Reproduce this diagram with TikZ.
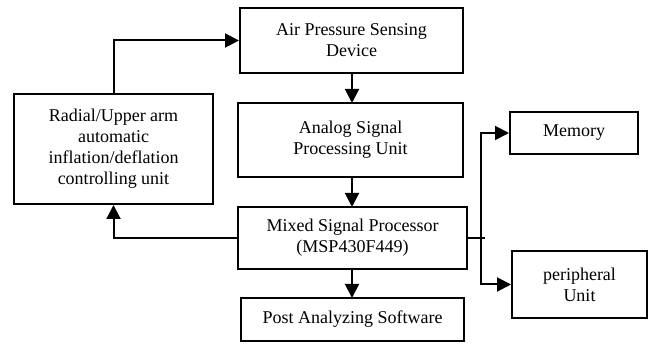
\documentclass[tikz,border=0pt]{standalone}
\usepackage{fontspec}
\setmainfont{Liberation Serif}
\usetikzlibrary{arrows.meta}
\begin{document}
\begin{tikzpicture}[x=1pt,y=1pt,
  box/.style={draw, line width=2pt, align=center, inner sep=0pt,
    font=\fontsize{18}{21}\selectfont},
  conn/.style={line width=2pt, -{Triangle[length=14pt,width=14pt]}},
  plain/.style={line width=2pt}]
\useasboundingbox (0,0) rectangle (649,-344);
\node[box, minimum width=223pt, minimum height=65pt] (air) at (351.5,-40.5) {Air Pressure Sensing\\Device};
\node[box, minimum width=225pt, minimum height=74pt] (analog) at (350.5,-140) {Analog Signal\\Processing Unit};
\node[box, minimum width=229pt, minimum height=62pt] (mixed) at (352.5,-238) {Mixed Signal Processor\\(MSP430F449)};
\node[box, minimum width=223pt, minimum height=43pt] (post) at (352.5,-319.5) {Post Analyzing Software};
\node[box, minimum width=199pt, minimum height=110pt] (radial) at (113.5,-149) {Radial/Upper arm\\automatic\\inflation/deflation\\controlling unit};
\node[box, minimum width=128pt, minimum height=42pt] (memory) at (574,-133) {Memory};
\node[box, minimum width=135pt, minimum height=67pt] (periph) at (579.5,-284.5) {peripheral\\Unit};
\coordinate (j) at (481,-238);
\coordinate (stub) at (485,-238);
\draw[conn] (radial.north) |- (air.west);
\draw[conn] (mixed.west) -| (radial.south);
\draw[conn] (352,-73) -- (352,-103);
\draw[conn] (352,-177) -- (352,-207);
\draw[conn] (352,-269) -- (352,-298);
\draw[plain] (mixed.east) -- (stub);
\draw[conn] (j) |- (memory.west);
\draw[conn] (j) |- (periph.west);
\end{tikzpicture}
\end{document}
